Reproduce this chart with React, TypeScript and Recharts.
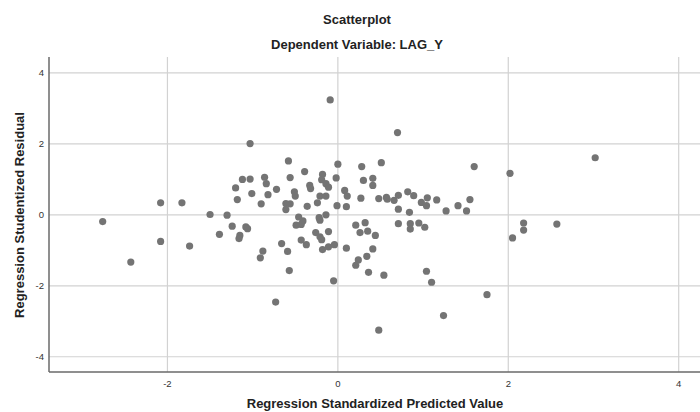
import React from 'react';
import { ScatterChart, Scatter, XAxis, YAxis, ReferenceLine } from 'recharts';

// Regression Standardized Predicted Value (x) / Regression Studentized Residual (y)
const predicted = [
  -2.76, -2.43, -2.08, -2.08, -1.83, -1.74, -1.5, -1.3, -1.24, -1.39,
  -1.2, -1.18, -1.15, -1.16, -1.08, -1.06,
  -1.03, -0.58, -0.39, -0.56, -0.86, -1.12, -1.03, -0.84, -0.72, -1.01,
  -0.82, -0.51, -0.5, -0.9, -0.61, -0.56, -0.61, -0.36, -0.33, -0.32,
  -0.09, 0.0, -0.18, -0.02, -0.19, -0.14, -0.11, 0.08, -0.21, -0.14,
  0.11, -0.24, -0.01, 0.1,
  0.28, 0.51, 0.41, 0.3, 0.41, 0.27, 0.48, 0.57, 0.58, 0.66,
  0.71, 0.71, 0.71, 0.7,
  -0.46, -0.41, -0.43, -0.49, -0.22, -0.21, -0.14, 0.21, 0.32,
  -0.66, -0.88, -0.91, -0.59, -0.57, -0.43, -0.37, -0.26, -0.21, -0.19,
  -0.11, -0.18, -0.11, -0.04, 0.1, -0.05, -0.73, 0.26, 0.35, 0.44,
  0.41, 0.34, 0.24, 0.21, 0.36, 0.54, 0.48,
  1.6, 2.02, 0.82, 0.89, 1.05, 0.98, 1.04, 1.16, 0.84, 1.27,
  1.41, 1.51, 1.55, 0.85, 0.85, 0.95, 1.02, 2.05, 2.18, 2.18,
  2.57, 1.04, 1.1, 1.75, 1.24, 3.02,
];
const residual = [
  -0.19, -1.33, 0.34, -0.75, 0.34, -0.88, 0.01, -0.01, -0.32, -0.55,
  0.76, 0.43, -0.58, -0.67, -0.34, -0.39,
  2.01, 1.52, 1.22, 1.05, 1.06, 1.0, 1.01, 0.88, 0.72, 0.6,
  0.57, 0.65, 0.53, 0.31, 0.32, 0.31, 0.15, 0.24, 0.83, 0.74,
  3.24, 1.43, 1.14, 1.04, 0.99, 0.88, 0.78, 0.69, 0.53, 0.53,
  0.53, 0.34, 0.26, 0.23,
  1.36, 1.47, 1.03, 0.97, 0.83, 0.47, 0.46, 0.49, 0.44, 0.41,
  0.55, 0.16, -0.25, 2.32,
  -0.06, -0.17, -0.27, -0.29, -0.08, -0.15, 0.0, -0.29, -0.22,
  -0.81, -1.02, -1.21, -1.03, -1.57, -0.71, -0.84, -0.5, -0.62, -0.7,
  -0.47, -0.98, -0.9, -0.84, -0.94, -1.86, -2.46, -0.5, -0.46, -0.58,
  -0.96, -1.17, -1.27, -1.42, -1.62, -1.7, -3.25,
  1.36, 1.17, 0.65, 0.54, 0.48, 0.35, 0.26, 0.42, 0.07, 0.11,
  0.26, 0.11, 0.43, -0.25, -0.4, -0.23, -0.35, -0.65, -0.23, -0.43,
  -0.26, -1.59, -1.9, -2.25, -2.84, 1.61,
];
const xTicks = [-2, 0, 2, 4];
const yTicks = [-4, -2, 0, 2, 4];

const points = predicted.map((x, i) => ({ x, y: residual[i] }));

const font = '"Liberation Sans", Arial, sans-serif';
const gridColor = '#d2d2d2';

const Dot = (props: any) => (
  <circle cx={props.cx} cy={props.cy} r={3.6} fill="#747474" />
);

export default function App() {
  return (
    <div style={{ position: 'relative', width: 700, height: 412, fontFamily: font, background: '#fff', overflow: 'hidden' }}>
      <style>{'body{margin:0}'}</style>
      <div style={{ position: 'absolute', left: 0, width: 714, top: 12, textAlign: 'center', fontSize: 13, fontWeight: 'bold', color: '#222' }}>
        Scatterplot
      </div>
      <div style={{ position: 'absolute', left: 0, width: 714, top: 37, textAlign: 'center', fontSize: 13, fontWeight: 'bold', color: '#222' }}>
        Dependent Variable: LAG_Y
      </div>
      <ScatterChart width={700} height={412} margin={{ top: 57, right: 0, bottom: 0, left: 0 }}>
        {/* grid only at the tick values, no frame */}
        {xTicks.map((t) => (
          <ReferenceLine key={'gx' + t} x={t} stroke={gridColor} strokeWidth={1.2} />
        ))}
        {yTicks.map((t) => (
          <ReferenceLine key={'gy' + t} y={t} stroke={gridColor} strokeWidth={1.2} />
        ))}
        <XAxis
          type="number"
          dataKey="x"
          domain={[-3.39, 4.25]}
          ticks={xTicks}
          allowDataOverflow
          height={40}
          tickLine={false}
          tickSize={4}
          tickMargin={4}
          stroke="#6a6a6a"
          strokeWidth={1.5}
          tick={{ fill: '#333', fontSize: 9.5, fontFamily: font }}
        />
        <YAxis
          type="number"
          dataKey="y"
          domain={[-4.43, 4.45]}
          ticks={yTicks}
          allowDataOverflow
          width={49}
          tickLine={false}
          tickSize={4}
          tickMargin={1}
          stroke="#6a6a6a"
          strokeWidth={1.5}
          tick={{ fill: '#333', fontSize: 9.5, fontFamily: font }}
        />
        <Scatter data={points} shape={Dot} isAnimationActive={false} />
      </ScatterChart>
      <div style={{ position: 'absolute', left: 0, width: 750, top: 396, textAlign: 'center', fontSize: 13, lineHeight: '15px', fontWeight: 'bold', color: '#222' }}>
        Regression Standardized Predicted Value
      </div>
      <div
        style={{
          position: 'absolute',
          left: 19,
          top: 215,
          transform: 'translate(-50%, -50%) rotate(-90deg)',
          whiteSpace: 'nowrap',
          fontSize: 13,
          fontWeight: 'bold',
          color: '#222',
        }}
      >
        Regression Studentized Residual
      </div>
    </div>
  );
}
